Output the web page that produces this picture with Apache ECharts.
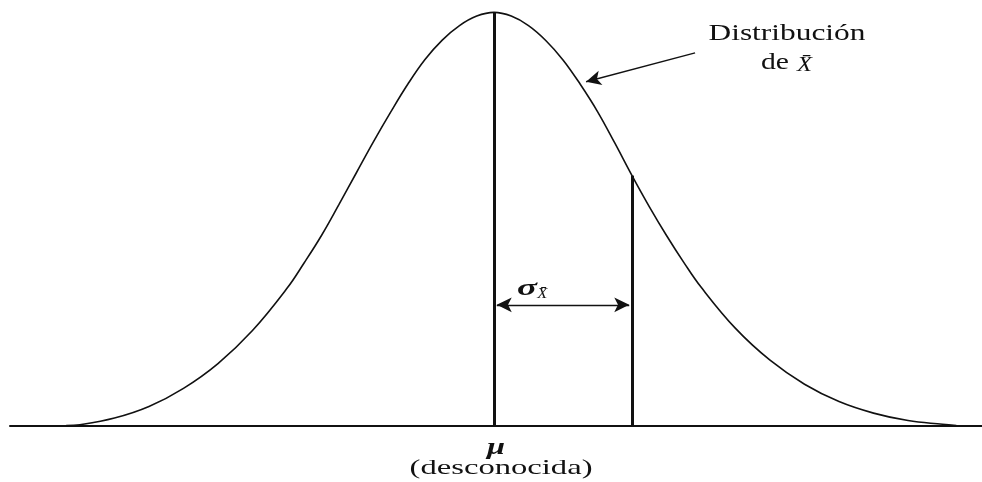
<!DOCTYPE html>
<html>
<head>
<meta charset="utf-8">
<script src="https://cdn.jsdelivr.net/npm/echarts@6/dist/echarts.min.js"></script>
<style>
  html, body { margin: 0; padding: 0; background: #fff; }
  #chart { width: 982px; height: 482px; }
</style>
</head>
<body>
<div id="chart"></div>
<script>
// curve: x in sigma units from mu, y as share of peak height
const curveX = [-3.1, -3.0, -2.75, -2.5, -2.25, -2.0, -1.75, -1.5, -1.375, -1.25, -1.125, -1.0, -0.875, -0.75,
  -0.625, -0.5, -0.375, -0.25, -0.125, 0, 0.125, 0.25, 0.375, 0.5, 0.625, 0.75, 0.875, 1.0, 1.125, 1.25,
  1.375, 1.5, 1.75, 2.0, 2.25, 2.5, 2.75, 3.0, 3.25, 3.35]
const curveY = [0, 0.002, 0.018, 0.046, 0.09, 0.15, 0.23, 0.332, 0.394, 0.46, 0.534, 0.61, 0.686, 0.758,
  0.826, 0.886, 0.933, 0.968, 0.991, 1.0, 0.991, 0.968, 0.932, 0.885, 0.826, 0.76, 0.684, 0.605, 0.53, 0.46,
  0.395, 0.335, 0.235, 0.158, 0.1, 0.058, 0.03, 0.012, 0.003, 0]
const muX = 0
const sigmaX = 1
const sigmaTop = 0.605
const arrowLevel = 0.292
const pointerFrom = [1.457, 0.902]
const pointerTo = [0.667, 0.832]

const ink = '#111'
const chart = echarts.init(document.getElementById('chart'))

chart.setOption({
  animation: false,
  grid: { left: 10, right: 0, top: 0, bottom: 56.5 },
  xAxis: {
    type: 'value', min: -3.507, max: 3.536,
    axisLine: { show: true, lineStyle: { color: ink, width: 2 } },
    axisTick: { show: false }, axisLabel: { show: false }, splitLine: { show: false }
  },
  yAxis: {
    type: 'value', min: 0, max: 1.03, show: false, splitLine: { show: false }
  },
  series: [
    {
      type: 'line',
      data: curveX.map((x, i) => [x, curveY[i]]),
      smooth: 0.4,
      symbol: 'none',
      lineStyle: { color: ink, width: 1.6 }
    },
    {
      type: 'line',
      data: [],
      markLine: {
        silent: true,
        label: { show: false },
        symbol: 'none',
        lineStyle: { color: ink, width: 3, type: 'solid' },
        data: [
          [{ coord: [muX, 0] }, { coord: [muX, 1] }],
          [{ coord: [sigmaX, 0] }, { coord: [sigmaX, sigmaTop] }]
        ]
      }
    },
    {
      type: 'line',
      data: [],
      markLine: {
        silent: true,
        label: { show: false },
        symbol: ['arrow', 'arrow'],
        symbolSize: [11, 15],
        lineStyle: { color: ink, width: 1.4, type: 'solid' },
        data: [
          [{ coord: [muX + 0.02, arrowLevel] }, { coord: [sigmaX - 0.02, arrowLevel] }],
          [{ coord: pointerFrom, symbol: 'none' }, { coord: pointerTo }]
        ]
      }
    }
  ]
})

// horizontal stretch so each text spans the width it has in the picture
const ctx = document.createElement('canvas').getContext('2d')
function stretch (text, font, width) {
  ctx.font = font
  return width / ctx.measureText(text).width
}

const serif = '"Liberation Serif", "DejaVu Serif", serif'
const labels = [
  { text: 'Distribución', at: [2.123, 0.948], font: '23px ' + serif, width: 157 },
  { text: 'de', at: [2.036, 0.878], font: '23px ' + serif, width: 28 },
  { text: 'X\u0304', at: [2.25, 0.872], font: 'italic 22px ' + serif, width: 15 },
  { text: 'σ', at: [0.239, 0.330], font: 'italic bold 24px ' + serif, width: 20 },
  { text: 'X\u0304', at: [0.35, 0.318], font: 'italic 14px ' + serif, width: 10 },
  { text: 'μ', at: [0.014, -0.054], font: 'italic bold 24px ' + serif, width: 18 },
  { text: '(desconocida)', at: [0.051, -0.103], font: '22px ' + serif, width: 183 }
]

chart.setOption({
  graphic: labels.map(l => {
    const p = chart.convertToPixel({ gridIndex: 0 }, l.at)
    return {
      type: 'text',
      x: p[0],
      y: p[1],
      scaleX: stretch(l.text, l.font, l.width),
      silent: true,
      style: { text: l.text, font: l.font, fill: ink, align: 'center', verticalAlign: 'middle' }
    }
  })
})
</script>
</body>
</html>
